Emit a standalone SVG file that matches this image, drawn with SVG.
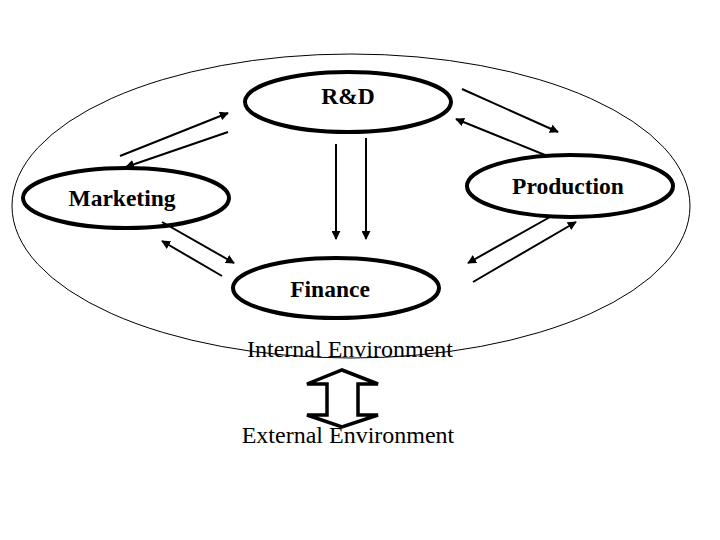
<svg xmlns="http://www.w3.org/2000/svg" width="720" height="540" viewBox="0 0 720 540">
<style>
.node{fill:#fff;stroke:#000;stroke-width:4}
.lbl{font-family:"Liberation Serif","Times New Roman",serif;font-weight:bold;font-size:23.5px;text-anchor:middle;fill:#000}
.env{font-family:"Liberation Serif","Times New Roman",serif;font-size:24px;text-anchor:middle;fill:#000}
.conn line{stroke:#000;stroke-width:2;marker-end:url(#ah)}
</style>
<defs>
<marker id="ah" viewBox="0 0 10 10" refX="9" refY="5" markerWidth="4.5" markerHeight="4.5" orient="auto" markerUnits="strokeWidth">
<path d="M0,0 L10,5 L0,10 z" fill="#000"/>
</marker>
</defs>
<rect width="720" height="540" fill="#fff"/>
<g id="environment">
<ellipse cx="351" cy="206" rx="339" ry="152" fill="none" stroke="#000" stroke-width="1"/>
</g>
<g id="rnd">
<ellipse class="node" cx="348" cy="102" rx="103" ry="30"/>
<text class="lbl" x="348" y="104">R&amp;D</text>
</g>
<g id="production">
<ellipse class="node" cx="570" cy="186" rx="103" ry="31"/>
<text class="lbl" x="568" y="194">Production</text>
</g>
<g id="marketing">
<ellipse class="node" cx="126" cy="198" rx="103" ry="30"/>
<text class="lbl" x="122" y="206">Marketing</text>
</g>
<g id="finance">
<ellipse class="node" cx="336" cy="288" rx="103" ry="30"/>
<text class="lbl" x="330" y="297">Finance</text>
</g>
<g id="connectors" class="conn">
<line x1="120" y1="156" x2="228" y2="113"/>
<line x1="228" y1="132" x2="126" y2="167"/>
<line x1="462" y1="89" x2="558" y2="132"/>
<line x1="545" y1="155" x2="456" y2="119"/>
<line x1="550" y1="217" x2="468" y2="263"/>
<line x1="473" y1="282" x2="576" y2="222"/>
<line x1="162" y1="222" x2="234" y2="263"/>
<line x1="222" y1="276" x2="162" y2="241"/>
<line x1="336" y1="144" x2="336" y2="239"/>
<line x1="366" y1="138" x2="366" y2="239"/>
</g>
<g id="internal-label">
<text class="env" x="350" y="357">Internal Environment</text>
</g>
<g id="double-arrow">
<path d="M342,370 L378,384 L358,384 L358,415 L378,415 L342,427 L307,415 L327,415 L327,384 L307,384 Z" fill="#fff" stroke="#000" stroke-width="3.5" stroke-linejoin="miter"/>
</g>
<g id="external-label">
<text class="env" x="348" y="443">External Environment</text>
</g>
</svg>
